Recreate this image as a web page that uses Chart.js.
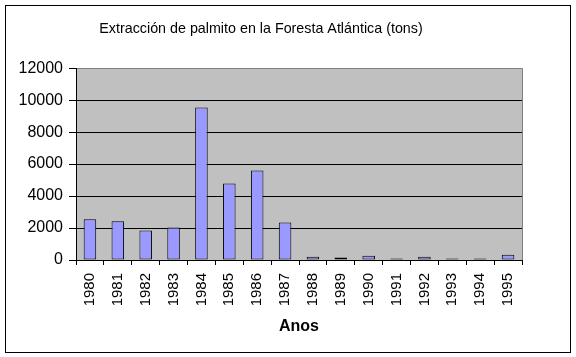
<!DOCTYPE html>
<html>
<head>
<meta charset="utf-8">
<script src="https://cdn.jsdelivr.net/npm/chart.js@4/dist/chart.umd.min.js"></script>
<style>
html,body{margin:0;padding:0;background:#fff;}
#wrap{width:576px;height:357px;position:relative;}
</style>
</head>
<body>
<div id="wrap"><canvas id="c" width="576" height="357"></canvas></div>
<script>
const categories = ["1980","1981","1982","1983","1984","1985","1986","1987","1988","1989","1990","1991","1992","1993","1994","1995"];
const values = [2550, 2420, 1850, 2040, 9540, 4790, 5600, 2350, 210, 150, 270, 90, 210, 90, 90, 330];
const chartTitle = "Extracción de palmito en la Foresta Atlántica (tons)";
const xAxisTitle = "Anos";
const yMin = 0, yMax = 12000, yStep = 2000;

const FONT = "Arial, 'Liberation Sans', sans-serif";

const framePlugin = {
  id: 'frame',
  beforeDraw(chart) {
    const ctx = chart.ctx;
    const a = chart.chartArea;
    ctx.save();
    ctx.fillStyle = '#ffffff';
    ctx.fillRect(0, 0, chart.width, chart.height);
    ctx.strokeStyle = '#000000';
    ctx.lineWidth = 1;
    ctx.strokeRect(5.5, 5.5, 565, 347);
    ctx.fillStyle = '#C0C0C0';
    ctx.fillRect(a.left, a.top, a.right - a.left, a.bottom - a.top);
    ctx.strokeStyle = '#808080';
    ctx.beginPath();
    ctx.moveTo(a.left, Math.round(a.top) + 0.5);
    ctx.lineTo(Math.round(a.right) + 0.5, Math.round(a.top) + 0.5);
    ctx.lineTo(Math.round(a.right) + 0.5, a.bottom);
    ctx.stroke();
    ctx.restore();
  }
};

new Chart(document.getElementById('c'), {
  type: 'bar',
  data: {
    labels: categories,
    datasets: [{
      data: values,
      backgroundColor: '#9999FF',
      borderColor: '#000000',
      borderWidth: 1,
      borderSkipped: false,
      barPercentage: 0.45,
      categoryPercentage: 1.0
    }]
  },
  options: {
    responsive: false,
    animation: false,
    devicePixelRatio: 1,
    layout: { padding: { left: 0, right: 54, top: 0, bottom: 0 } },
    plugins: {
      legend: { display: false },
      tooltip: { enabled: false },
      title: {
        display: true,
        text: chartTitle,
        color: '#000000',
        font: { family: FONT, size: 14.3, weight: 'normal' },
        padding: { top: 20, bottom: 31 }
      }
    },
    scales: {
      x: {
        offset: true,
        grid: {
          display: true,
          drawOnChartArea: false,
          drawTicks: true,
          tickLength: 5,
          offset: true,
          color: '#000000',
          tickColor: '#000000'
        },
        border: { display: true, color: '#000000', width: 1 },
        ticks: {
          color: '#000000',
          font: { family: FONT, size: 15 },
          minRotation: 90,
          maxRotation: 90,
          padding: 8,
          autoSkip: false
        },
        title: {
          display: true,
          text: xAxisTitle,
          color: '#000000',
          font: { family: FONT, size: 16, weight: 'bold' },
          padding: { top: 0, bottom: 21 }
        },
        afterFit(scale) { scale.height = 97; }
      },
      y: {
        min: yMin,
        max: yMax,
        ticks: {
          stepSize: yStep,
          color: '#000000',
          font: { family: FONT, size: 16 },
          padding: 6,
          callback: (v) => String(v)
        },
        grid: {
          drawOnChartArea: true,
          drawTicks: true,
          tickLength: 7,
          color: (ctx) => (ctx.tick && ctx.tick.value === yMax) ? '#808080' : '#000000',
          tickColor: '#000000',
          lineWidth: 1
        },
        border: { display: true, color: '#000000', width: 1 },
        afterFit(scale) { scale.width = 76; }
      }
    }
  },
  plugins: [framePlugin]
});
</script>
</body>
</html>
